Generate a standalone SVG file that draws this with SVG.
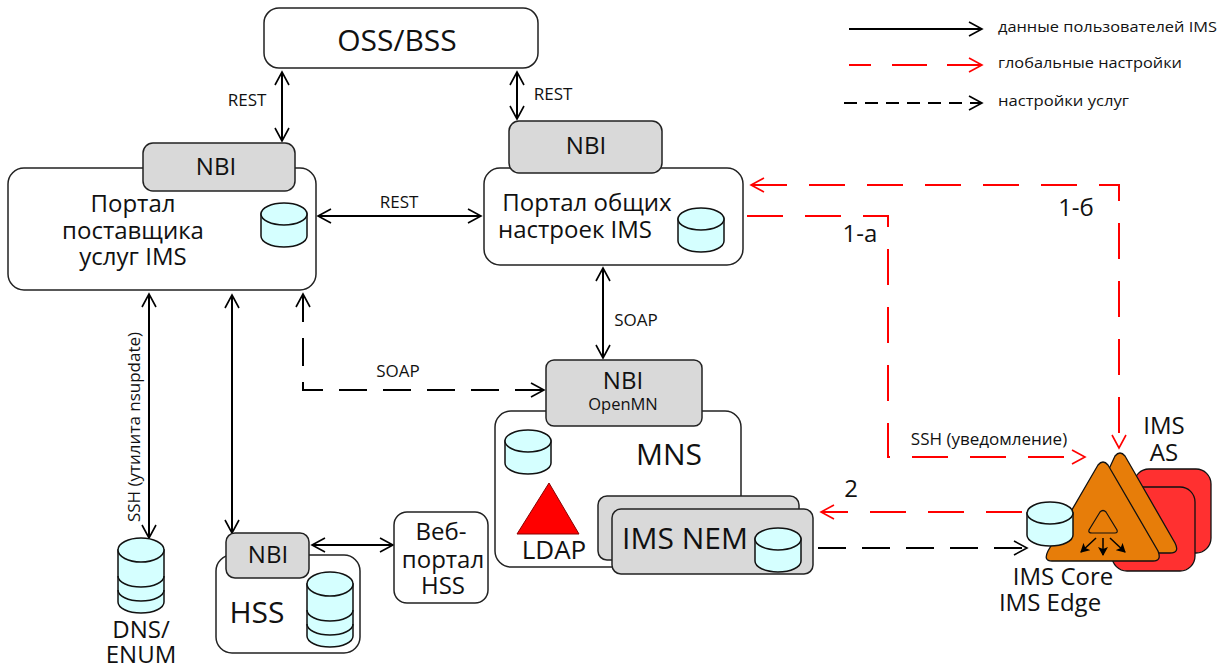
<svg xmlns="http://www.w3.org/2000/svg" width="1223" height="668" viewBox="0 0 1223 668">
<style>
text{font-family:"Open Sans","Noto Sans",sans-serif;fill:#111;text-anchor:middle}
.box{fill:#fff;stroke:#222;stroke-width:1.5}
.nbi{fill:#d9d9d9;stroke:#222;stroke-width:1.5}
.cyl{fill:#d5ffff;stroke:#111;stroke-width:1.5}
.line{fill:none;stroke:#000;stroke-width:2}
.red{stroke:#f00;stroke-dasharray:36 22}
.dash{stroke-dasharray:28 16}
.leg{font-size:15px;text-anchor:start}
.t17{font-size:17px}
.t16{font-size:16.5px}
.t24{font-size:24px}
.t30{font-size:30px}
</style>
<defs>
<marker id="a" markerUnits="userSpaceOnUse" markerWidth="16" markerHeight="16" refX="14" refY="8" orient="auto-start-reverse" viewBox="0 0 16 16"><path d="M1 1L14 8L1 15" fill="none" stroke="#000" stroke-width="1.6"/></marker>
<marker id="r" markerUnits="userSpaceOnUse" markerWidth="16" markerHeight="16" refX="14" refY="8" orient="auto-start-reverse" viewBox="0 0 16 16"><path d="M1 1L14 8L1 15" fill="none" stroke="#f00" stroke-width="1.6"/></marker>
<marker id="s" markerUnits="userSpaceOnUse" markerWidth="10" markerHeight="10" refX="8" refY="5" orient="auto" viewBox="0 0 10 10"><path d="M0 0L9 5L0 10L2 5Z" fill="#000"/></marker>
<g id="cyl1"><path class="cyl" d="M-23 -11V11C-23 17-13 22 0 22S23 17 23 11V-11Z"/><ellipse class="cyl" cx="0" cy="-11" rx="23" ry="11"/></g>
<g id="cyl3"><path class="cyl" d="M-23 -26V26C-23 32-13 37 0 37S23 32 23 26V-26Z"/><path class="cyl" style="fill:none" d="M-23 0C-23 6-13 11 0 11S23 6 23 0M-23 14C-23 20-13 25 0 25S23 20 23 14"/><ellipse class="cyl" cx="0" cy="-26" rx="23" ry="12"/></g>
</defs>

<g id="legend">
<path class="line" d="M849 29H982" marker-end="url(#a)"/>
<path class="line red" style="stroke-dasharray:22 21 35 20 35" d="M849 65H982" marker-end="url(#r)"/>
<path class="line" style="stroke-dasharray:13 8" d="M844 103H982" marker-end="url(#a)"/>
<text class="leg" x="998" y="32" textLength="219" lengthAdjust="spacingAndGlyphs">данные пользователей IMS</text>
<text class="leg" x="998" y="68" textLength="184" lengthAdjust="spacingAndGlyphs">глобальные настройки</text>
<text class="leg" x="998" y="106" textLength="131" lengthAdjust="spacingAndGlyphs">настройки услуг</text>
</g>

<g id="connectors">
<path class="line" d="M282 72V141" marker-start="url(#a)" marker-end="url(#a)"/>
<path class="line" d="M517 72V119" marker-start="url(#a)" marker-end="url(#a)"/>
<path class="line" d="M318 216H481" marker-start="url(#a)" marker-end="url(#a)"/>
<path class="line" d="M603 268V358" marker-start="url(#a)" marker-end="url(#a)"/>
<path class="line dash" d="M303 294V390H544" marker-start="url(#a)" marker-end="url(#a)"/>
<path class="line" d="M149 294V538" marker-start="url(#a)" marker-end="url(#a)"/>
<path class="line" d="M232 295V533" marker-start="url(#a)" marker-end="url(#a)"/>
<path class="line" d="M312 545H393" marker-start="url(#a)" marker-end="url(#a)"/>
<path class="line red" d="M747 216H888V457H1085" marker-end="url(#r)"/>
<path class="line red" d="M751 185H1119V448" marker-start="url(#r)" marker-end="url(#r)"/>
<path class="line red" d="M1022 512H821" marker-end="url(#r)"/>
<path class="line dash" d="M818 548H1027" marker-end="url(#a)"/>
</g>

<g id="oss"><rect class="box" x="264" y="8" width="274" height="60" rx="15"/><text class="t30" x="397" y="51">OSS/BSS</text></g>

<g id="portal-ims"><rect class="box" x="8" y="168" width="308" height="122" rx="16"/>
<text class="t24" x="133" y="212">Портал</text><text class="t24" x="133" y="239">поставщика</text><text class="t24" x="133" y="265">услуг IMS</text>
<use href="#cyl1" x="284" y="225"/></g>
<g id="portal-ims-nbi"><rect class="nbi" x="143" y="143" width="152" height="48" rx="10"/><text class="t24" x="216" y="175">NBI</text></g>

<g id="portal-common"><rect class="box" x="484" y="168" width="259" height="97" rx="16"/>
<text class="t24" x="587" y="211">Портал общих</text><text class="t24" x="575" y="238">настроек IMS</text>
<use href="#cyl1" x="701" y="230"/></g>
<g id="portal-common-nbi"><rect class="nbi" x="509" y="121" width="153" height="52" rx="10"/><text class="t24" x="586" y="154">NBI</text></g>

<g id="mns"><rect class="box" x="495" y="411" width="246" height="156" rx="16"/>
<text class="t30" x="669" y="465">MNS</text>
<use href="#cyl1" x="528" y="452"/>
<path d="M549 483L517 534H579Z" fill="#f00" stroke="#800" stroke-width="1"/>
<text x="554" y="559" style="font-size:26px">LDAP</text></g>
<g id="mns-nbi"><rect class="nbi" x="546" y="360" width="156" height="66" rx="8"/><text class="t24" x="623" y="389">NBI</text><text class="t16" x="623" y="410">OpenMN</text></g>

<g id="ims-nem"><rect class="nbi" x="598" y="496" width="201" height="64" rx="9"/><rect class="nbi" x="612" y="509" width="201" height="65" rx="9"/>
<text class="t30" x="685" y="549">IMS NEM</text>
<use href="#cyl1" x="778" y="550"/></g>

<g id="hss"><rect class="box" x="216" y="555" width="144" height="98" rx="16"/>
<text class="t30" x="257" y="623">HSS</text>
<use href="#cyl3" x="330" y="610"/></g>
<g id="hss-nbi"><rect class="nbi" x="226" y="533" width="83" height="45" rx="9"/><text class="t24" x="268" y="563">NBI</text></g>

<g id="web-hss"><rect class="box" x="394" y="512" width="94" height="91" rx="13"/>
<text class="t24" x="441" y="540">Веб-</text><text class="t24" x="443" y="568">портал</text><text class="t24" x="443" y="594">HSS</text></g>

<g id="dns"><use href="#cyl3" x="141" y="576"/><text class="t24" x="141" y="638">DNS/</text><text class="t24" x="141" y="663">ENUM</text></g>

<g id="ims-as"><rect x="1134" y="469" width="77" height="84" rx="15" fill="#ff3030" stroke="#111" stroke-width="1.3"/>
<rect x="1112" y="487" width="83" height="84" rx="15" fill="#ff3030" stroke="#111" stroke-width="1.3"/>
<path d="M1115 456Q1120 450 1125 456L1175 543Q1180 553 1170 553H1070Z" fill="#e77d09" stroke="#111" stroke-width="1.3"/>
<text class="t24" x="1164" y="434">IMS</text><text class="t24" x="1164" y="461">AS</text></g>
<g id="ims-core"><path d="M1098 465Q1103 459 1108 465L1158 551Q1162 561 1153 561H1052Q1043 561 1048 551Z" fill="#e77d09" stroke="#111" stroke-width="1.3"/>
<path d="M1100 512Q1103 509 1106 512L1117 530Q1118 533 1115 533H1092Q1088 533 1089 530Z" fill="none" stroke="#111" stroke-width="1.2"/>
<g fill="none" stroke="#000" stroke-width="1.5"><path d="M1096 538L1081 552" marker-end="url(#s)"/><path d="M1103 538V555" marker-end="url(#s)"/><path d="M1110 538L1125 552" marker-end="url(#s)"/></g>
<use href="#cyl1" x="1050" y="524"/>
<text class="t24" x="1063" y="585">IMS Core</text><text class="t24" x="1050" y="611">IMS Edge</text></g>

<g id="labels">
<text class="t17" x="247" y="106">REST</text>
<text class="t17" x="553" y="100">REST</text>
<text class="t17" x="399" y="208">REST</text>
<text class="t17" x="636" y="326">SOAP</text>
<text class="t17" x="398" y="377">SOAP</text>
<text class="t17" transform="translate(140 427) rotate(-90)">SSH (утилита nsupdate)</text>
<text class="t17" x="989" y="445">SSH (уведомление)</text>
<text class="t24" x="860" y="242">1-а</text>
<text class="t24" x="1076" y="216">1-б</text>
<text class="t24" x="851" y="497">2</text>
</g>
</svg>
